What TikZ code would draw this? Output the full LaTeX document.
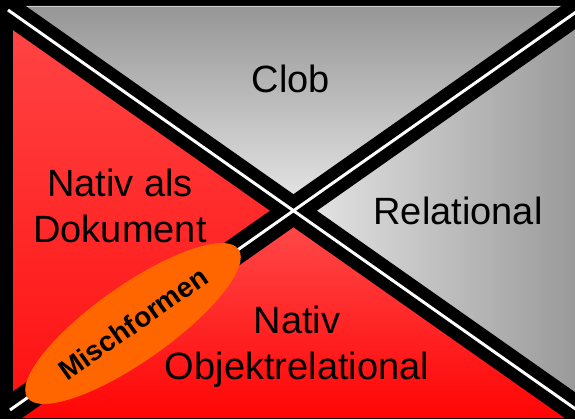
\documentclass[tikz,border=0pt]{standalone}
\usepackage{fontspec}
\setmainfont{Liberation Sans}
\usetikzlibrary{shapes.geometric}
\definecolor{gtop}{HTML}{969696}
\definecolor{gapex}{HTML}{E8E8E8}
\definecolor{gright}{HTML}{9A9A9A}
\definecolor{rtop}{HTML}{FF4646}
\definecolor{rbot}{HTML}{FF1010}
\definecolor{rapex}{HTML}{FF4D4D}
\definecolor{rbase}{HTML}{FF0505}
\definecolor{mixorange}{HTML}{FF6600}
\begin{document}
\begin{tikzpicture}[x=1pt,y=-1pt,
  lbl/.style={font=\fontsize{38}{46}\selectfont, text=black, inner sep=0pt, align=center},
  band/.style={line width=27pt, black},
  divider/.style={line width=3pt, white},
  mixbox/.style={ellipse, fill=mixorange, draw=none, minimum width=258pt, minimum height=76pt,
    inner sep=0pt, rotate=35.1, font=\fontsize{28}{32}\selectfont\bfseries, text=black},
]
\useasboundingbox (0,0) rectangle (575,419);
\fill[black] (0,0) rectangle (575,419);
% geometry
\coordinate (C) at (293.5,210.7);
\coordinate (TL) at (13,6);
\coordinate (TR) at (575,6);
\coordinate (BR) at (575,418);
\coordinate (BL) at (13,418);
\coordinate (L1a) at (13,13.5);
\coordinate (L1b) at (575,408.6);
\coordinate (L2a) at (575,12.8);
\coordinate (L2b) at (13,407.9);
% quadrants
\path[top color=gtop, bottom color=gapex] (TL) -- (TR) -- (L2a) -- (C) -- (L1a) -- cycle;
\path[left color=gapex, right color=gright] (L2a) -- (C) -- (L1b) -- cycle;
\path[top color=rtop, bottom color=rbot] (L1a) -- (C) -- (L2b) -- cycle;
\path[top color=rapex, bottom color=rbase] (L2b) -- (C) -- (L1b) -- (BR) -- (BL) -- cycle;
\draw[line width=1.5pt, gray!40] (13,6.5) -- (575,6.5);
% diagonals
\coordinate (B1s) at (-50,-30.75);
\coordinate (B1e) at (625,443.8);
\coordinate (B2s) at (625,-22.4);
\coordinate (B2e) at (-50,452.2);
\coordinate (W1s) at (8,10);
\coordinate (W2e) at (10,410);
\draw[band] (B1s) -- (B1e);
\draw[band] (B2s) -- (B2e);
\draw[divider] (W1s) -- (B1e);
\draw[divider] (B2s) -- (W2e);
% mixed forms
\node[mixbox] (mix) at (133,323.5) {Mischformen};
% labels
\node[lbl, anchor=base] (clob) at (291,93) {Clob};
\node[lbl, anchor=base] (rel) at (458,225) {Relational};
\node[lbl, anchor=base] (doc) at (120,243) {Nativ als\\Dokument};
\node[lbl, anchor=base] (obj) at (297,379) {Nativ\\Objektrelational};
\end{tikzpicture}
\end{document}
